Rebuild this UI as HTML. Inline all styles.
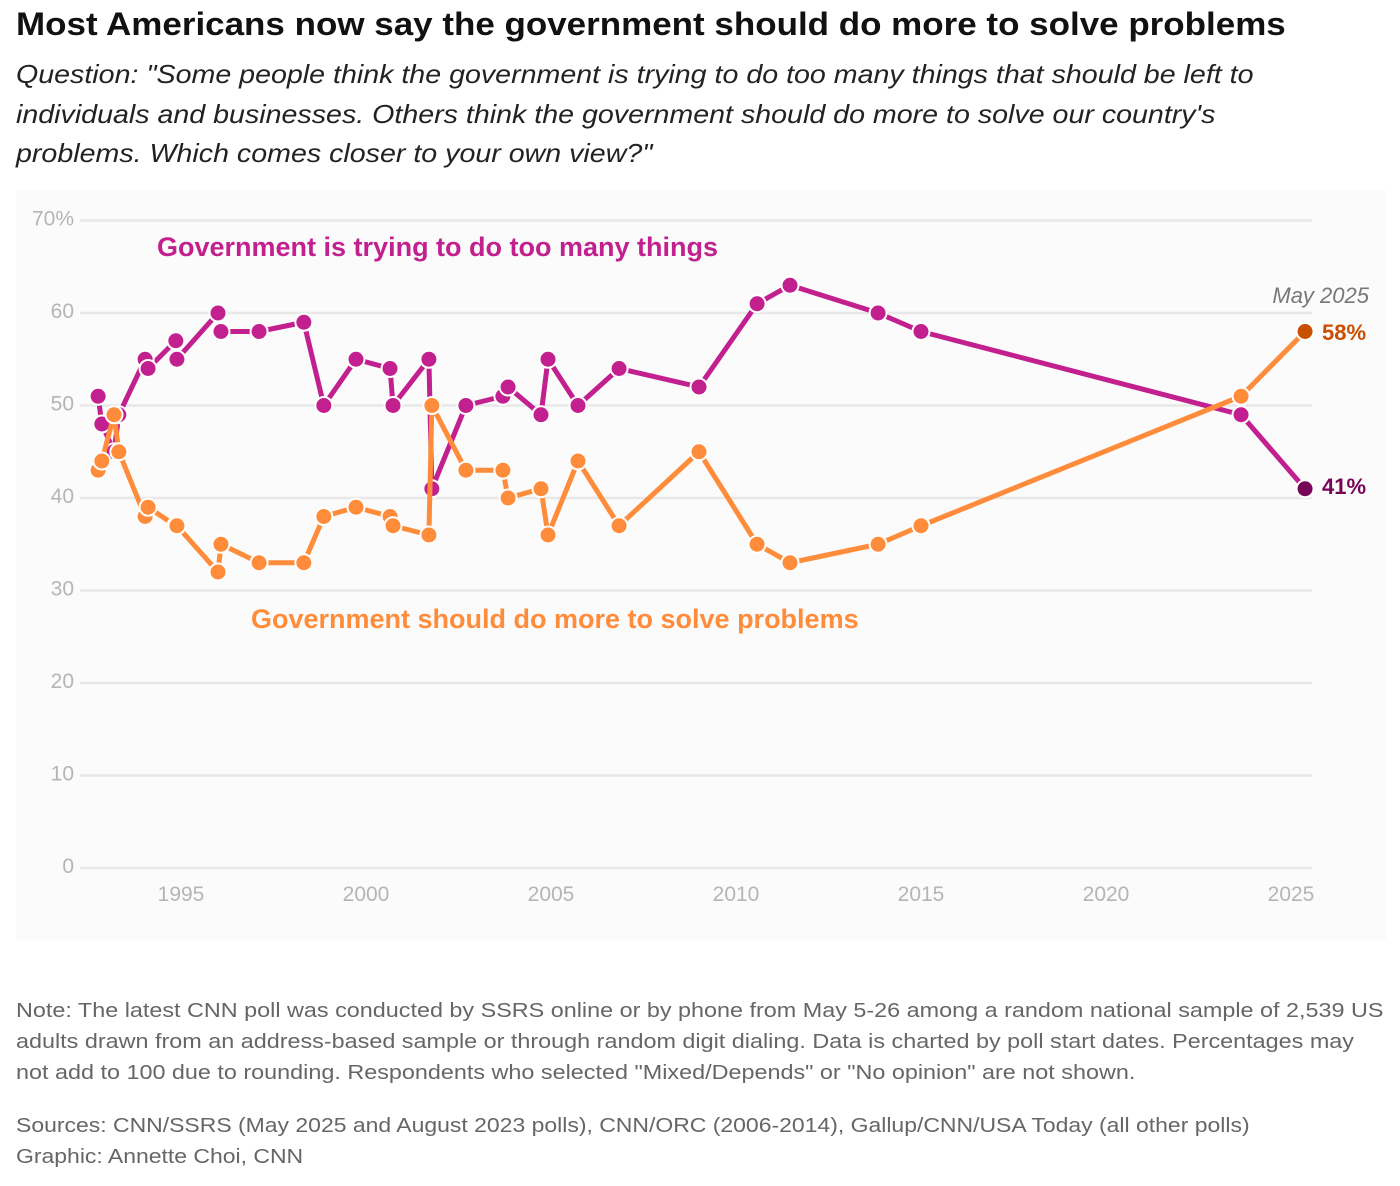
<!DOCTYPE html>
<html><head><meta charset="utf-8"><style>
body{margin:0;background:#fff;width:1400px;height:1186px;overflow:hidden;font-family:"Liberation Sans",Arial,sans-serif;position:relative}
.t{position:absolute;left:16px;top:6px;font-size:32px;font-weight:bold;color:#111;transform:scaleX(1.093);transform-origin:0 0;white-space:nowrap}
.s{position:absolute;left:16px;top:55px;font-size:26px;font-style:italic;color:#222;line-height:39.5px;white-space:nowrap;transform:scaleX(1.10);transform-origin:0 0}
.n{position:absolute;left:16px;top:995px;font-size:20.5px;color:#666;line-height:31px;white-space:nowrap;transform:scaleX(1.14);transform-origin:0 0}
.src{position:absolute;left:16px;top:1110px;font-size:20.5px;color:#666;line-height:31px;white-space:nowrap;transform:scaleX(1.12);transform-origin:0 0}
svg{position:absolute;left:0;top:0}
</style></head><body>
<div class="t">Most Americans now say the government should do more to solve problems</div>
<div class="s">Question: "Some people think the government is trying to do too many things that should be left to<br>individuals and businesses. Others think the government should do more to solve our country's<br>problems. Which comes closer to your own view?"</div>
<svg id="chart" width="1400" height="1186"></svg>
<div class="n">Note: The latest CNN poll was conducted by SSRS online or by phone from May 5-26 among a random national sample of 2,539 US<br>adults drawn from an address-based sample or through random digit dialing. Data is charted by poll start dates. Percentages may<br>not add to 100 due to rounding. Respondents who selected "Mixed/Depends" or "No opinion" are not shown.</div>
<div class="src">Sources: CNN/SSRS (May 2025 and August 2023 polls), CNN/ORC (2006-2014), Gallup/CNN/USA Today (all other polls)<br>Graphic: Annette Choi, CNN</div>
<script>
const dates=[1992.76,1992.86,1993.19,1993.32,1994.03,1994.11,1994.86,1994.89,1996.0,1996.08,1997.11,1998.32,1998.86,1999.73,2000.65,2000.73,2001.70,2001.78,2002.70,2003.70,2003.84,2004.73,2004.92,2005.73,2006.84,2009.0,2010.57,2011.46,2013.84,2015.0,2023.65,2025.38];
const tooMany=[51,48,45,49,55,54,57,55,60,58,58,59,50,55,54,50,55,41,50,51,52,49,55,50,54,52,61,63,60,58,49,41];
const doMore=[43,44,49,45,38,39,37,37,32,35,33,33,38,39,38,37,36,50,43,43,40,41,36,44,37,45,35,33,35,37,51,58];
const yTicks=[0,10,20,30,40,50,60,70];
const xTicks=[1995,2000,2005,2010,2015,2020,2025];
const NS="http://www.w3.org/2000/svg";
const svg=document.getElementById('chart');
const X=y=>181+(y-1995)*37;
const Y=v=>868-v*9.25;
function mk(tag,attrs,parent){const e=document.createElementNS(NS,tag);for(const k in attrs)e.setAttribute(k,attrs[k]);(parent||svg).appendChild(e);return e;}
const bg=mk('rect',{x:16,y:190,width:1370,height:750,fill:'#fbfbfb'});


yTicks.forEach(v=>{
 const l=mk('line',{x1:80,x2:1312,y1:Y(v),y2:Y(v),stroke:'#e8e8e8','stroke-width':2.5});
 
 
 const t=mk('text',{x:74,y:Y(v)+5,'text-anchor':'end','font-size':21,fill:'#b5b5b5','font-family':'Liberation Sans, sans-serif'});
 t.textContent=v===70?'70%':String(v);
 
 
});
xTicks.forEach(v=>{
 const t=mk('text',{x:X(v),y:901,'text-anchor':'middle','font-size':21,fill:'#b5b5b5','font-family':'Liberation Sans, sans-serif'});
 t.textContent=String(v);
 
 
});
function series(vals,color,lastColor,name){
 const g=mk('g',{});
 
 
 const p=mk('polyline',{points:vals.map((v,i)=>X(dates[i])+','+Y(v)).join(' '),fill:'none',stroke:color,'stroke-width':5,'stroke-linejoin':'round'},g);
 
 
 vals.forEach((v,i)=>{
  const last=i===vals.length-1;
  const c=mk('circle',{cx:X(dates[i]),cy:Y(v),r:8.5,fill:last?lastColor:color,stroke:'#fff','stroke-width':2},g);
  
  
 });
}
series(tooMany,'#c21f8f','#780457','too-many');
series(doMore,'#ff8c3a','#c84f00','do-more');
function label(txt,x,y,color,size,weight,anchor,style,name){
 const t=mk('text',{x:x,y:y,fill:color,'font-size':size,'font-weight':weight,'text-anchor':anchor||'start','font-style':style||'normal','font-family':'Liberation Sans, sans-serif'});
 t.textContent=txt;
 
 
}
label('Government is trying to do too many things',157,256,'#c21f8f',27,'bold','start','normal','too-many-label');
label('Government should do more to solve problems',251,628,'#ff8c3a',27,'bold','start','normal','do-more-label');
label('May 2025',1369,303,'#777',22,'normal','end','italic','latest-date-label');
label('58%',1322,340,'#c84f00',22,'bold','start','normal','do-more-end-value');
label('41%',1322,494,'#780457',22,'bold','start','normal','too-many-end-value');
</script>
</body></html>
